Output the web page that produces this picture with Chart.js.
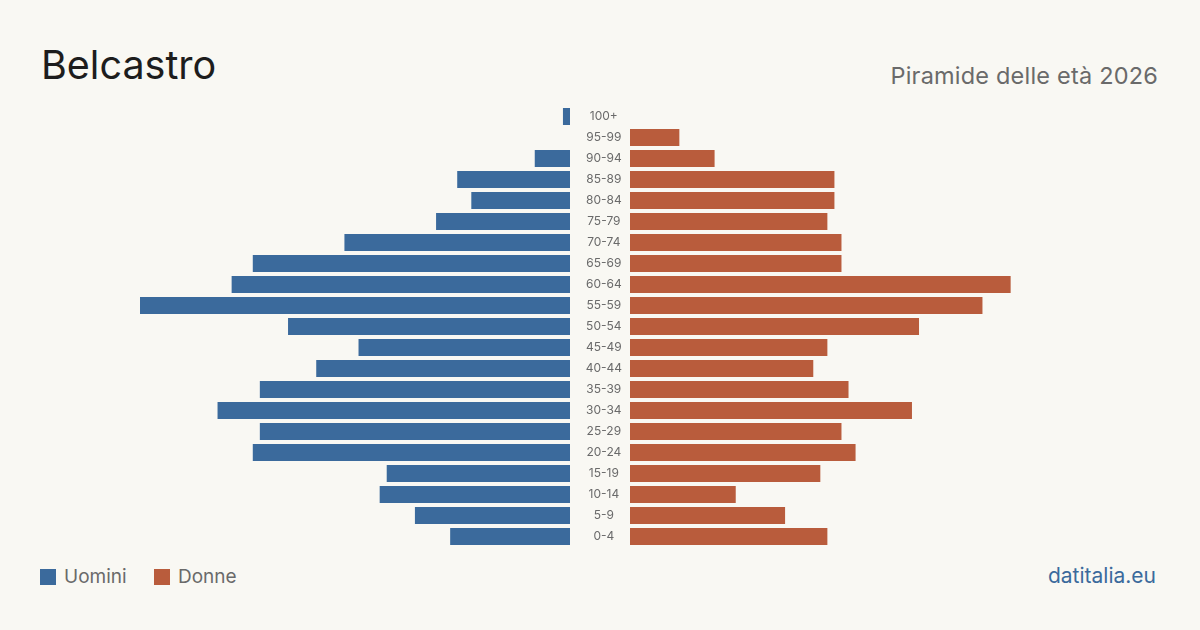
<!DOCTYPE html>
<html>
<head>
<meta charset="utf-8">
<script src="https://cdn.jsdelivr.net/npm/chart.js@4/dist/chart.umd.min.js"></script>
<style>
  body { margin: 0; background: #f9f8f3; font-family: Inter, "Noto Sans", sans-serif; }
  #wrap { position: relative; width: 1200px; height: 630px; overflow: hidden; background: #f9f8f3; }
  #title { position: absolute; left: 41px; top: 41px; font-size: 39.5px; color: #1d1d1d; font-weight: 400; }
  #subtitle { position: absolute; right: 42px; top: 61px; font-size: 23.5px; color: #6a6a6a; letter-spacing: 0.2px; }
  #legend { position: absolute; left: 40px; top: 565px; font-size: 19px; color: #6a6a6a; }
  #legend span.box { display: inline-block; width: 16px; height: 16px; vertical-align: -2px; margin-right: 8px; }
  #legend span.item { margin-right: 22px; }
  #credit { position: absolute; right: 44px; top: 563px; font-size: 21px; color: #3b6a9c; }
  canvas { position: absolute; }
</style>
</head>
<body>
<div id="wrap">
  <div id="title">Belcastro</div>
  <div id="subtitle">Piramide delle età 2026</div>
  <canvas id="leftChart" width="430" height="441" style="left:140px; top:106px;"></canvas>
  <canvas id="rightChart" width="490" height="441" style="left:570px; top:106px;"></canvas>
  <div id="legend">
    <span class="item"><span class="box" style="background:#3b6a9c"></span>Uomini</span>
    <span class="item"><span class="box" style="background:#b95c3c"></span>Donne</span>
  </div>
  <div id="credit">datitalia.eu</div>
</div>
<script>
const ageGroups = ["100+", "95-99", "90-94", "85-89", "80-84", "75-79", "70-74", "65-69", "60-64", "55-59",
    "50-54", "45-49", "40-44", "35-39", "30-34", "25-29", "20-24", "15-19", "10-14", "5-9", "0-4"];

const maleValues = [1, 0, 5, 16, 14, 19, 32, 45, 48, 61, 40, 30, 36, 44, 50, 44, 45, 26, 27, 22, 17];
const femaleValues = [0, 7, 12, 29, 29, 28, 30, 30, 54, 50, 41, 28, 26, 31, 40, 30, 32, 27, 15, 22, 28];

const maxValue = Math.max(...maleValues, ...femaleValues);

const baseOptions = {
    indexAxis: "y",
    responsive: false,
    animation: false,
    layout: { padding: 0 },
    plugins: { legend: { display: false }, tooltip: { enabled: false } },
};

const leftCtx = document.getElementById("leftChart").getContext("2d");
new Chart(leftCtx, {
    type: "bar",
    data: {
        labels: ageGroups,
        datasets: [{
            label: "Uomini",
            data: maleValues,
            backgroundColor: "#3b6a9c",
            borderWidth: 0,
            barPercentage: 0.81,
            categoryPercentage: 1,
        }],
    },
    options: {
        ...baseOptions,
        scales: {
            x: { display: false, reverse: true, min: 0, max: maxValue },
            y: { display: false },
        },
    },
});

const rightCtx = document.getElementById("rightChart").getContext("2d");
new Chart(rightCtx, {
    type: "bar",
    data: {
        labels: ageGroups,
        datasets: [{
            label: "Donne",
            data: femaleValues,
            backgroundColor: "#b95c3c",
            borderWidth: 0,
            barPercentage: 0.81,
            categoryPercentage: 1,
        }],
    },
    options: {
        ...baseOptions,
        scales: {
            x: { display: false, min: 0, max: maxValue },
            y: {
                position: "left",
                grid: { display: false },
                border: { display: false },
                ticks: {
                    color: "#6a6a6a",
                    font: { family: "Inter", size: 12 },
                    crossAlign: "center",
                    padding: 0,
                },
                afterFit: (axis) => {
                    axis.width = 60;
                    axis.paddingTop = 0;
                    axis.paddingBottom = 0;
                },
            },
        },
    },
});
</script>
</body>
</html>
